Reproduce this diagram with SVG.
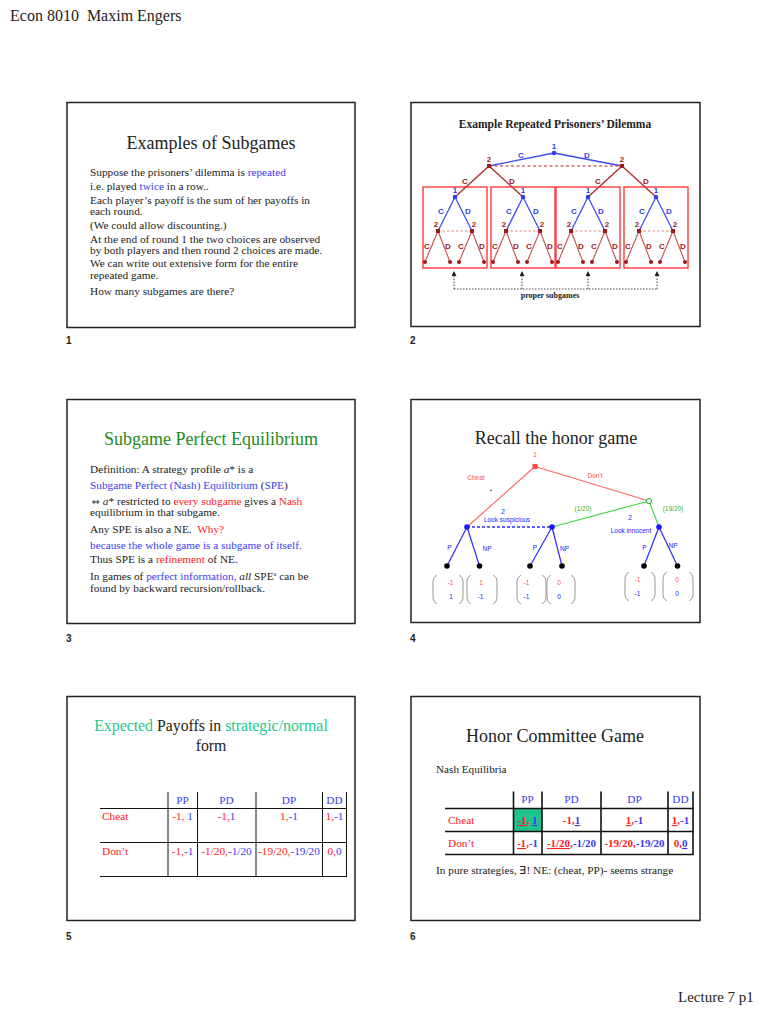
<svg xmlns="http://www.w3.org/2000/svg" width="768" height="1024" viewBox="0 0 768 1024">
<defs>
<style>
.frame{fill:#fff;stroke:#222;stroke-width:1.5}
.ser{font-family:"Liberation Serif","Times New Roman",serif;fill:#222}
.sans{font-family:"Liberation Sans",Arial,sans-serif}
.title{font-size:18px;text-anchor:middle}
.body{font-size:11.3px}
.blue{fill:#3b3bf0}
.red{fill:#ff2020}
.pg{font-family:"Liberation Sans",Arial,sans-serif;font-size:10px;font-weight:bold;fill:#222}
.lb{font-family:"Liberation Sans",Arial,sans-serif;font-size:8px;font-weight:bold;text-anchor:middle}
.p1{fill:#2f3ff0}
.p2{fill:#a01818}
.e1{stroke:#3a48f0;stroke-width:1.3;fill:none}
.e2{stroke:#b02828;stroke-width:1.3;fill:none}
.e3{stroke:#c05050;stroke-width:1.1;fill:none}
.box{fill:none;stroke:#ff2a2a;stroke-width:1.3}
.hl{font-family:"Liberation Sans",Arial,sans-serif;font-size:6.5px;text-anchor:middle}
.brk{fill:none;stroke:#999;stroke-width:1}
.tl{stroke:#111;stroke-width:1}
.tl6{stroke:#111;stroke-width:1.6}
.tc{font-size:11.3px;text-anchor:middle}
</style>
<marker id="ah" viewBox="0 0 6 6" refX="6" refY="3" markerWidth="5" markerHeight="5" markerUnits="userSpaceOnUse" orient="auto">
<path d="M0,0 L6,3 L0,6 z" fill="#222"/>
</marker>
</defs>
<rect width="768" height="1024" fill="#fff"/>

<text class="ser" x="10" y="21" font-size="16" xml:space="preserve" style="white-space:pre">Econ 8010  Maxim Engers</text>
<text class="ser" x="678" y="1002" font-size="15">Lecture 7 p1</text>

<!-- Slide 1 -->
<g id="slide1">
<rect class="frame" x="67" y="102.5" width="288" height="225"/>
<text class="ser title" x="211" y="149">Examples of Subgames</text>
<g class="ser body">
<text x="90" y="176">Suppose the prisoners’ dilemma is <tspan class="blue">repeated</tspan></text>
<text x="90" y="190">i.e. played <tspan class="blue">twice</tspan> in a row..</text>
<text x="90" y="203.5">Each player’s payoff is the sum of her payoffs in</text>
<text x="90" y="215">each round.</text>
<text x="90" y="229">(We could allow discounting.)</text>
<text x="90" y="243">At the end of round 1 the two choices are observed</text>
<text x="90" y="254">by both players and then round 2 choices are made.</text>
<text x="90" y="267">We can write out extensive form for the entire</text>
<text x="90" y="279">repeated game.</text>
<text x="90" y="295">How many subgames are there?</text>
</g>
</g>
<text class="pg" x="66" y="344">1</text>

<!-- Slide 2 -->
<g id="slide2">
<rect class="frame" x="411" y="102.5" width="289" height="224"/>
<text class="ser" x="555" y="128" font-size="11.5" font-weight="bold" text-anchor="middle">Example Repeated Prisoners’ Dilemma</text>
</g>
<g id="connectors2">
<line class="e1" x1="554" y1="153" x2="489" y2="166"/>
<line class="e1" x1="554" y1="153" x2="622" y2="166"/>
<line x1="489" y1="166" x2="622" y2="166" stroke="#b02828" stroke-width="1.2" stroke-dasharray="3,2.5"/>
<line class="e2" x1="489" y1="166" x2="455" y2="197"/>
<line class="e2" x1="489" y1="166" x2="523" y2="197"/>
<line class="e2" x1="622" y1="166" x2="588" y2="197"/>
<line class="e2" x1="622" y1="166" x2="656" y2="197"/>
<g stroke="#333" stroke-width="0.9" stroke-dasharray="1.5,1.5" fill="none">
<path d="M454,289 H657"/>
<line x1="454" y1="289" x2="454" y2="271" marker-end="url(#ah)"/>
<line x1="522" y1="289" x2="522" y2="271" marker-end="url(#ah)"/>
<line x1="588" y1="289" x2="588" y2="271" marker-end="url(#ah)"/>
<line x1="657" y1="289" x2="657" y2="271" marker-end="url(#ah)"/>
</g>
</g>
<g id="pd-top">
<circle cx="554" cy="153" r="2.3" class="p1"/>
<rect x="487" y="164" width="4" height="4" class="p2"/>
<rect x="620" y="164" width="4" height="4" class="p2"/>
<text class="lb p1" x="554" y="149">1</text>
<text class="lb p2" x="489" y="162">2</text>
<text class="lb p2" x="622" y="162">2</text>
<text class="lb p1" x="521" y="158">C</text>
<text class="lb p1" x="587" y="158">D</text>
<text class="lb p2" x="465" y="184">C</text>
<text class="lb p2" x="512" y="184">D</text>
<text class="lb p2" x="598" y="184">C</text>
<text class="lb p2" x="646" y="184">D</text>
</g>
<g id="subgame1" transform="translate(455,197)">
<rect class="box" x="-32" y="-10" width="64" height="81"/>
<line class="e1" x1="0" y1="0" x2="-17" y2="34"/><line class="e1" x1="0" y1="0" x2="17" y2="34"/>
<line x1="-17" y1="34" x2="17" y2="34" stroke="#e08a8a" stroke-width="1" stroke-dasharray="2.5,2"/>
<line class="e3" x1="-17" y1="34" x2="-30" y2="65"/><line class="e3" x1="-17" y1="34" x2="-5" y2="65"/>
<line class="e3" x1="17" y1="34" x2="4" y2="65"/><line class="e3" x1="17" y1="34" x2="29" y2="65"/>
<circle r="2.3" class="p1"/>
<rect x="-19" y="32" width="4" height="4" class="p2"/><rect x="15" y="32" width="4" height="4" class="p2"/>
<g class="p2"><circle cx="-30" cy="65" r="2"/><circle cx="-5" cy="65" r="2"/><circle cx="4" cy="65" r="2"/><circle cx="29" cy="65" r="2"/></g>
<text class="lb p1" x="0" y="-4">1</text>
<text class="lb p1" x="-14" y="17">C</text><text class="lb p1" x="13" y="17">D</text>
<text class="lb p2" x="-19" y="30">2</text><text class="lb p2" x="19" y="30">2</text>
<text class="lb p2" x="-28" y="52">C</text><text class="lb p2" x="-7" y="52">D</text><text class="lb p2" x="6" y="52">C</text><text class="lb p2" x="27" y="52">D</text>
</g>
<g id="subgame2" transform="translate(523,197)">
<rect class="box" x="-32" y="-10" width="64" height="81"/>
<line class="e1" x1="0" y1="0" x2="-17" y2="34"/><line class="e1" x1="0" y1="0" x2="17" y2="34"/>
<line x1="-17" y1="34" x2="17" y2="34" stroke="#e08a8a" stroke-width="1" stroke-dasharray="2.5,2"/>
<line class="e3" x1="-17" y1="34" x2="-30" y2="65"/><line class="e3" x1="-17" y1="34" x2="-5" y2="65"/>
<line class="e3" x1="17" y1="34" x2="4" y2="65"/><line class="e3" x1="17" y1="34" x2="29" y2="65"/>
<circle r="2.3" class="p1"/>
<rect x="-19" y="32" width="4" height="4" class="p2"/><rect x="15" y="32" width="4" height="4" class="p2"/>
<g class="p2"><circle cx="-30" cy="65" r="2"/><circle cx="-5" cy="65" r="2"/><circle cx="4" cy="65" r="2"/><circle cx="29" cy="65" r="2"/></g>
<text class="lb p1" x="0" y="-4">1</text>
<text class="lb p1" x="-14" y="17">C</text><text class="lb p1" x="13" y="17">D</text>
<text class="lb p2" x="-19" y="30">2</text><text class="lb p2" x="19" y="30">2</text>
<text class="lb p2" x="-28" y="52">C</text><text class="lb p2" x="-7" y="52">D</text><text class="lb p2" x="6" y="52">C</text><text class="lb p2" x="27" y="52">D</text>
</g>
<g id="subgame3" transform="translate(588,197)">
<rect class="box" x="-32" y="-10" width="64" height="81"/>
<line class="e1" x1="0" y1="0" x2="-17" y2="34"/><line class="e1" x1="0" y1="0" x2="17" y2="34"/>
<line x1="-17" y1="34" x2="17" y2="34" stroke="#e08a8a" stroke-width="1" stroke-dasharray="2.5,2"/>
<line class="e3" x1="-17" y1="34" x2="-30" y2="65"/><line class="e3" x1="-17" y1="34" x2="-5" y2="65"/>
<line class="e3" x1="17" y1="34" x2="4" y2="65"/><line class="e3" x1="17" y1="34" x2="29" y2="65"/>
<circle r="2.3" class="p1"/>
<rect x="-19" y="32" width="4" height="4" class="p2"/><rect x="15" y="32" width="4" height="4" class="p2"/>
<g class="p2"><circle cx="-30" cy="65" r="2"/><circle cx="-5" cy="65" r="2"/><circle cx="4" cy="65" r="2"/><circle cx="29" cy="65" r="2"/></g>
<text class="lb p1" x="0" y="-4">1</text>
<text class="lb p1" x="-14" y="17">C</text><text class="lb p1" x="13" y="17">D</text>
<text class="lb p2" x="-19" y="30">2</text><text class="lb p2" x="19" y="30">2</text>
<text class="lb p2" x="-28" y="52">C</text><text class="lb p2" x="-7" y="52">D</text><text class="lb p2" x="6" y="52">C</text><text class="lb p2" x="27" y="52">D</text>
</g>
<g id="subgame4" transform="translate(656,197)">
<rect class="box" x="-32" y="-10" width="64" height="81"/>
<line class="e1" x1="0" y1="0" x2="-17" y2="34"/><line class="e1" x1="0" y1="0" x2="17" y2="34"/>
<line x1="-17" y1="34" x2="17" y2="34" stroke="#e08a8a" stroke-width="1" stroke-dasharray="2.5,2"/>
<line class="e3" x1="-17" y1="34" x2="-30" y2="65"/><line class="e3" x1="-17" y1="34" x2="-5" y2="65"/>
<line class="e3" x1="17" y1="34" x2="4" y2="65"/><line class="e3" x1="17" y1="34" x2="29" y2="65"/>
<circle r="2.3" class="p1"/>
<rect x="-19" y="32" width="4" height="4" class="p2"/><rect x="15" y="32" width="4" height="4" class="p2"/>
<g class="p2"><circle cx="-30" cy="65" r="2"/><circle cx="-5" cy="65" r="2"/><circle cx="4" cy="65" r="2"/><circle cx="29" cy="65" r="2"/></g>
<text class="lb p1" x="0" y="-4">1</text>
<text class="lb p1" x="-14" y="17">C</text><text class="lb p1" x="13" y="17">D</text>
<text class="lb p2" x="-19" y="30">2</text><text class="lb p2" x="19" y="30">2</text>
<text class="lb p2" x="-28" y="52">C</text><text class="lb p2" x="-7" y="52">D</text><text class="lb p2" x="6" y="52">C</text><text class="lb p2" x="27" y="52">D</text>
</g>
<text class="ser" x="550" y="298" font-size="8" font-weight="bold" text-anchor="middle">proper subgames</text>
<text class="pg" x="410" y="344">2</text>

<!-- Slide 3 -->
<g id="slide3">
<rect class="frame" x="67" y="399.5" width="288" height="224"/>
<text class="ser title" x="211" y="445" style="fill:#1e8c1e" font-size="18.5">Subgame Perfect Equilibrium</text>
<g class="ser body">
<text x="90" y="473">Definition: A strategy profile <tspan font-style="italic">a</tspan>* is a</text>
<text x="90" y="489" style="fill:#3b3bf0"> Subgame Perfect (Nash) Equilibrium <tspan style="fill:#222">(</tspan>SPE<tspan style="fill:#222">)</tspan></text>
<text x="92" y="505"><tspan font-family="DejaVu Sans,sans-serif" font-size="9.5">⇔</tspan> <tspan font-style="italic">a</tspan>* restricted to <tspan class="red">every subgame</tspan> gives a <tspan class="red">Nash</tspan></text>
<text x="90" y="516">equilibrium in that subgame.</text>
<text x="90" y="533" xml:space="preserve" style="white-space:pre">Any SPE is also a NE.  <tspan class="red">Why?</tspan></text>
<text x="90" y="549" style="fill:#3b3bf0">because the whole game is a subgame of itself.</text>
<text x="90" y="563">Thus SPE is a <tspan class="red">refinement</tspan> of NE.</text>
<text x="90" y="579.5">In games of <tspan class="blue">perfect information,</tspan> <tspan font-style="italic">all</tspan> SPE<tspan font-size="6.5" dy="-3.5">a</tspan><tspan dy="3.5"> can be</tspan></text>
<text x="90" y="591.5">found by backward recursion/rollback.</text>
</g>
</g>
<text class="pg" x="66" y="642">3</text>

<!-- Slide 4 -->
<g id="slide4">
<rect class="frame" x="411" y="399.5" width="289" height="223"/>
<text class="ser title" x="556" y="444">Recall the honor game</text>
</g>
<g id="connectors4">
<line x1="535" y1="466.5" x2="467" y2="527" stroke="#ff6464" stroke-width="1.1"/>
<line x1="535" y1="466.5" x2="649" y2="501" stroke="#ff6464" stroke-width="1.1"/>
<line x1="649" y1="501" x2="552" y2="527" stroke="#3ad63a" stroke-width="1.1"/>
<line x1="649" y1="501" x2="659" y2="527" stroke="#3ad63a" stroke-width="1.1"/>
<line x1="467" y1="527" x2="552" y2="527" stroke="#2a2aff" stroke-width="1.3" stroke-dasharray="3,2"/>
<g stroke="#2a2aff" stroke-width="1.2">
<line x1="467" y1="527" x2="447" y2="566"/><line x1="467" y1="527" x2="479.5" y2="566"/>
<line x1="552" y1="527" x2="530" y2="566"/><line x1="552" y1="527" x2="562" y2="566"/>
<line x1="659" y1="527" x2="644" y2="566"/><line x1="659" y1="527" x2="677.5" y2="566"/>
</g>
</g>
<g id="honor-nodes">
<rect x="532.5" y="464" width="5" height="5" fill="#ff4545"/>
<circle cx="649" cy="501" r="2.6" fill="#fff" stroke="#22b022" stroke-width="1"/>
<g fill="#1a1aff"><circle cx="467" cy="527" r="2.8"/><circle cx="552" cy="527" r="2.8"/><circle cx="659" cy="527" r="2.8"/></g>
<g fill="#000"><circle cx="447" cy="566" r="2.8"/><circle cx="479.5" cy="566" r="2.8"/><circle cx="530" cy="566" r="2.8"/><circle cx="562" cy="566" r="2.8"/><circle cx="644" cy="566" r="2.8"/><circle cx="677.5" cy="566" r="2.8"/></g>
<circle cx="491" cy="490.5" r="0.7" fill="#000"/>
<text class="hl" x="535" y="457" fill="#ff5050">1</text>
<text class="hl" x="476" y="479.5" fill="#ff5050">Cheat</text>
<text class="hl" x="595" y="477.5" fill="#ff5050">Don't</text>
<text class="hl" x="583" y="510.5" fill="#30b030">(1/20)</text>
<text class="hl" x="673" y="510.5" fill="#30b030">(19/20)</text>
<text class="hl" x="503" y="513.5" fill="#2020ff">2</text>
<text class="hl" x="507" y="521.5" fill="#2020ff">Look suspicious</text>
<text class="hl" x="630" y="519.5" fill="#2020ff">2</text>
<text class="hl" x="631" y="532.5" fill="#2020ff">Look innocent</text>
<g fill="#2020ff">
<text class="hl" x="449.5" y="550">P</text><text class="hl" x="487" y="551">NP</text>
<text class="hl" x="535" y="550">P</text><text class="hl" x="564.5" y="551">NP</text>
<text class="hl" x="644.5" y="549.5">P</text><text class="hl" x="673" y="547.5">NP</text>
</g>
</g>
<g id="payoffs4">
<path class="brk" d="M437,575 Q433,577 433,581 V598 Q433,602 437,604 M459,575 Q463,577 463,581 V598 Q463,602 459,604"/>
<path class="brk" d="M471,575 Q467,577 467,581 V598 Q467,602 471,604 M493,575 Q497,577 497,581 V598 Q497,602 493,604"/>
<path class="brk" d="M521,575 Q517,577 517,581 V598 Q517,602 521,604 M542,575 Q546,577 546,581 V598 Q546,602 542,604"/>
<path class="brk" d="M551,575 Q547,577 547,581 V598 Q547,602 551,604 M571,575 Q575,577 575,581 V598 Q575,602 571,604"/>
<path class="brk" d="M629,572 Q625,574 625,578 V595 Q625,599 629,601 M651,572 Q655,574 655,578 V595 Q655,599 651,601"/>
<path class="brk" d="M667,572 Q663,574 663,578 V595 Q663,599 667,601 M689,572 Q693,574 693,578 V595 Q693,599 689,601"/>
<g font-family="Liberation Sans,Arial,sans-serif" font-size="6.5" text-anchor="middle">
<text x="450.5" y="584.5" fill="#ff5050">-1</text><text x="451" y="598.5" fill="#2020ff">1</text>
<text x="481" y="584.5" fill="#ff5050">1</text><text x="480.5" y="598.5" fill="#2020ff">-1</text>
<text x="526.5" y="584.5" fill="#ff5050">-1</text><text x="526.5" y="598.5" fill="#2020ff">-1</text>
<text x="559" y="584.5" fill="#ff5050">0</text><text x="559" y="598.5" fill="#2020ff">0</text>
<text x="637.5" y="581.5" fill="#ff5050">-1</text><text x="637.5" y="595.5" fill="#2020ff">-1</text>
<text x="677" y="581.5" fill="#ff5050">0</text><text x="677" y="595.5" fill="#2020ff">0</text>
</g>
</g>
<text class="pg" x="410" y="642">4</text>

<!-- Slide 5 -->
<g id="slide5">
<rect class="frame" x="67" y="696.5" width="288" height="224"/>
<text class="ser" x="211" y="731" font-size="15.8" text-anchor="middle"><tspan fill="#22c990">Expected</tspan> Payoffs in <tspan fill="#22c990">strategic/normal</tspan></text>
<text class="ser" x="211" y="751" font-size="15.8" text-anchor="middle">form</text>
<g class="tl">
<line x1="100" y1="808.5" x2="347" y2="808.5"/>
<line x1="100" y1="842.5" x2="347" y2="842.5"/>
<line x1="100" y1="876.5" x2="347" y2="876.5"/>
<line x1="168" y1="792" x2="168" y2="877"/>
<line x1="197.5" y1="792" x2="197.5" y2="877"/>
<line x1="256" y1="792" x2="256" y2="877"/>
<line x1="322.5" y1="792" x2="322.5" y2="877"/>
<line x1="346.5" y1="792" x2="346.5" y2="877"/>
</g>
<g class="ser tc">
<text x="182.5" y="804" class="blue">PP</text>
<text x="226.5" y="804" class="blue">PD</text>
<text x="289" y="804" class="blue">DP</text>
<text x="334.5" y="804" class="blue">DD</text>
<text x="102" y="819.5" class="red" text-anchor="start">Cheat</text>
<text x="182.5" y="819.5"><tspan class="red">-1,</tspan><tspan class="blue"> 1</tspan></text>
<text x="226.5" y="819.5"><tspan class="red">-1,</tspan><tspan class="blue">1</tspan></text>
<text x="289" y="819.5"><tspan class="red">1,</tspan><tspan class="blue">-1</tspan></text>
<text x="334.5" y="819.5"><tspan class="red">1,</tspan><tspan class="blue">-1</tspan></text>
<text x="102" y="855" class="red" text-anchor="start">Don’t</text>
<text x="182.5" y="855"><tspan class="red">-1,</tspan><tspan class="blue">-1</tspan></text>
<text x="226.5" y="855"><tspan class="red">-1/20,</tspan><tspan class="blue">-1/20</tspan></text>
<text x="289" y="855"><tspan class="red">-19/20,</tspan><tspan class="blue">-19/20</tspan></text>
<text x="334.5" y="855"><tspan class="red">0,</tspan><tspan class="blue">0</tspan></text>
</g>
</g>
<text class="pg" x="66" y="940">5</text>

<!-- Slide 6 -->
<g id="slide6">
<rect class="frame" x="411" y="696.5" width="289" height="224"/>
<text class="ser title" x="555" y="742">Honor Committee Game</text>
<text class="ser" x="436" y="773" font-size="11.2">Nash Equilibria</text>
<rect x="513.5" y="808.5" width="28.5" height="23" fill="#20c38c"/>
<g class="tl6">
<line x1="445" y1="808.5" x2="693.5" y2="808.5"/>
<line x1="445" y1="831.5" x2="693.5" y2="831.5"/>
<line x1="445" y1="854.5" x2="693.5" y2="854.5"/>
<line x1="513.5" y1="791.5" x2="513.5" y2="855"/>
<line x1="542" y1="791.5" x2="542" y2="855"/>
<line x1="601" y1="791.5" x2="601" y2="855"/>
<line x1="668" y1="791.5" x2="668" y2="855"/>
<line x1="693" y1="791.5" x2="693" y2="855"/>
</g>
<g class="ser tc">
<text x="527.5" y="803" class="blue">PP</text>
<text x="571.5" y="803" class="blue">PD</text>
<text x="634.5" y="803" class="blue">DP</text>
<text x="680.5" y="803" class="blue">DD</text>
<text x="448" y="824" class="red" text-anchor="start">Cheat</text>
<text x="448" y="847" class="red" text-anchor="start">Don’t</text>
<g font-weight="bold" font-size="11">
<text x="527.5" y="824"><tspan class="red" style="text-decoration:underline">-1</tspan><tspan class="red">,</tspan> <tspan class="blue" style="text-decoration:underline">1</tspan></text>
<text x="571.5" y="824"><tspan class="red">-1,</tspan><tspan class="blue" style="text-decoration:underline">1</tspan></text>
<text x="634.5" y="824"><tspan class="red" style="text-decoration:underline">1</tspan><tspan class="red">,</tspan><tspan class="blue">-1</tspan></text>
<text x="680.5" y="824"><tspan class="red" style="text-decoration:underline">1</tspan><tspan class="red">,</tspan><tspan class="blue">-1</tspan></text>
<text x="527.5" y="847"><tspan class="red" style="text-decoration:underline">-1</tspan><tspan class="red">,</tspan><tspan class="blue">-1</tspan></text>
<text x="571.5" y="847"><tspan class="red" style="text-decoration:underline">-1/20</tspan><tspan class="red">,</tspan><tspan class="blue">-1/20</tspan></text>
<text x="634.5" y="847"><tspan class="red">-19/20,</tspan><tspan class="blue">-19/20</tspan></text>
<text x="680.5" y="847"><tspan class="red">0,</tspan><tspan class="blue" style="text-decoration:underline">0</tspan></text>
</g>
</g>
<text class="ser" x="436" y="874" font-size="11.3">In pure strategies, ∃! NE: (cheat, PP)- seems strange</text>
</g>
<text class="pg" x="410" y="940">6</text>
</svg>
